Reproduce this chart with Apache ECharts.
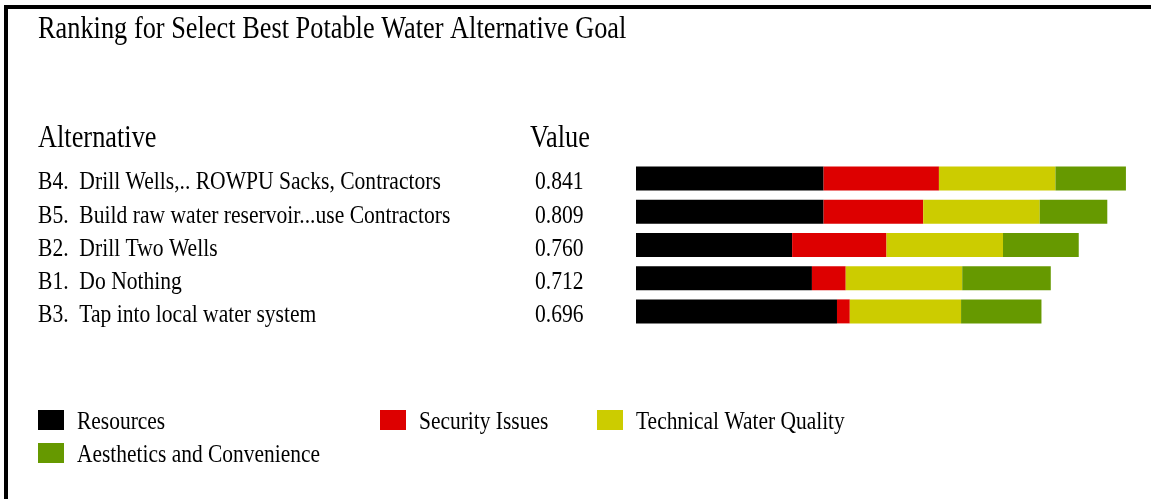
<!DOCTYPE html>
<html>
<head>
<meta charset="utf-8">
<script src="https://cdn.jsdelivr.net/npm/echarts@6/dist/echarts.min.js"></script>
<style>
  html, body { margin: 0; padding: 0; background: #fff; }
  #main { width: 1151px; height: 499px; }
</style>
</head>
<body>
<div id="main"></div>
<script>
// data
const alternatives = [
  'B4.  Drill Wells,.. ROWPU Sacks, Contractors',
  'B5.  Build raw water reservoir...use Contractors',
  'B2.  Drill Two Wells',
  'B1.  Do Nothing',
  'B3.  Tap into local water system'
];
const totals = ['0.841', '0.809', '0.760', '0.712', '0.696'];
const criteria = ['Resources', 'Security Issues', 'Technical Water Quality', 'Aesthetics and Convenience'];
const resources = [0.322, 0.322, 0.268, 0.302, 0.345];
const security = [0.198, 0.171, 0.162, 0.058, 0.022];
const technical = [0.200, 0.200, 0.200, 0.200, 0.191];
const aesthetics = [0.121, 0.116, 0.130, 0.152, 0.138];

const colors = ['#000000', '#dd0000', '#cccc00', '#669900'];
const FONT = '"Liberation Serif", "Times New Roman", serif';

const chart = echarts.init(document.getElementById('main'));

const values = [resources, security, technical, aesthetics];
const series = criteria.map((name, i) => ({
  name: name,
  type: 'bar',
  stack: 'total',
  barWidth: 24,
  itemStyle: { color: colors[i] },
  data: values[i]
}));

chart.setOption({
  animation: false,
  backgroundColor: '#fff',
  grid: { left: 636, right: 14, top: 162, bottom: 171 },
  xAxis: { type: 'value', min: 0, max: 0.86, show: false },
  yAxis: { type: 'category', data: alternatives, inverse: true, show: false },
  series: series
});

// condensed serif text, like the original
function txt(text, x, y, size, scale) {
  return {
    type: 'text', x: x, y: y, scaleX: scale, silent: true,
    style: { text: text, font: size + 'px ' + FONT, fill: '#000', verticalAlign: 'middle' }
  };
}

const g = [];
// frame (top and left only)
g.push({ type: 'rect', shape: { x: 4, y: 5, width: 1147, height: 4 }, style: { fill: '#000' }, silent: true });
g.push({ type: 'rect', shape: { x: 4, y: 5, width: 4, height: 494 }, style: { fill: '#000' }, silent: true });

g.push(txt('Ranking for Select Best Potable Water Alternative Goal', 38, 30, 31, 0.85));
g.push(txt('Alternative', 38, 139, 31, 0.85));
g.push(txt('Value', 530, 139, 31, 0.85));

alternatives.forEach((name, i) => {
  const y = chart.convertToPixel({ yAxisIndex: 0 }, name) + 4;
  g.push(txt(name, 38, y, 26, 0.83));
  g.push(txt(totals[i], 535, y, 26, 0.83));
});

// legend
const legendPos = [[38, 420], [380, 420], [597, 420], [38, 453]];
criteria.forEach((name, i) => {
  const p = legendPos[i];
  g.push({ type: 'rect', shape: { x: p[0], y: p[1] - 10, width: 26, height: 20 }, style: { fill: colors[i] }, silent: true });
  g.push(txt(name, p[0] + 39, p[1] + 2, 26, 0.825));
});

chart.setOption({ graphic: g });
</script>
</body>
</html>
